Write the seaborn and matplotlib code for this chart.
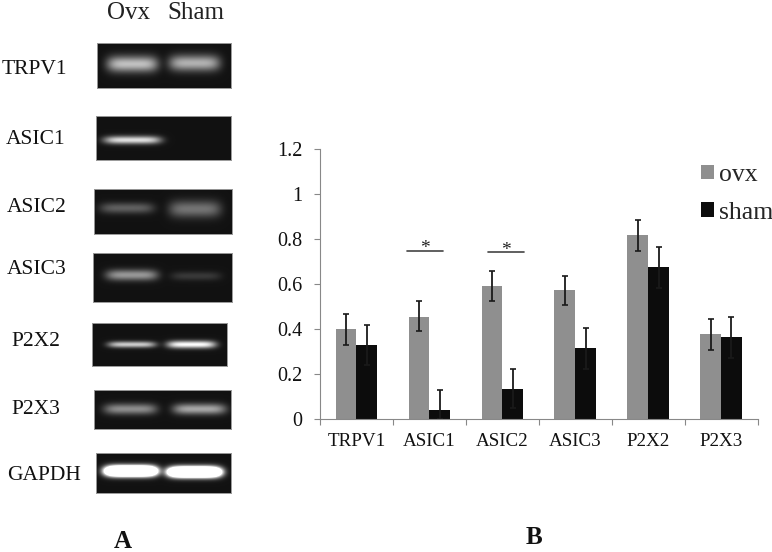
import numpy as np
import pandas as pd
import seaborn as sns
import matplotlib.pyplot as plt

# Bar chart values (panel B)
genes = ['TRPV1', 'ASIC1', 'ASIC2', 'ASIC3', 'P2X2', 'P2X3']
ovx = [0.40, 0.455, 0.59, 0.573, 0.817, 0.376]
sham = [0.33, 0.04, 0.135, 0.315, 0.675, 0.366]
ovx_hi = [0.465, 0.524, 0.656, 0.637, 0.883, 0.443]
ovx_lo = [0.33, 0.39, 0.523, 0.505, 0.747, 0.305]
sham_hi = [0.42, 0.127, 0.224, 0.406, 0.765, 0.453]
sham_lo = [0.24, 0.0, 0.048, 0.224, 0.582, 0.27]
yticks = [0, 0.2, 0.4, 0.6, 0.8, 1, 1.2]
yticklabels = ['0', '0.2', '0.4', '0.6', '0.8', '1', '1.2']

# Gel panels (panel A), in pixels of the figure
gel_names = ['TRPV1', 'ASIC1', 'ASIC2', 'ASIC3', 'P2X2', 'P2X3', 'GAPDH']
gel_boxes = [(97, 231, 43, 88), (96, 231, 116, 160), (94, 232, 189, 234),
             (93, 232, 253, 302), (92, 227, 323, 366), (94, 231, 390, 429),
             (96, 231, 453, 493)]
# each band: x start, x end, y centre, half height, brightness
gel_bands = [
    [(107, 158, 64, 8, 0.68), (169, 220, 63, 8, 0.62)],
    [(104, 161, 140, 4, 0.8)],
    [(100, 154, 208, 5.5, 0.3), (169, 221, 209, 8.5, 0.38)],
    [(106, 158, 275, 5.5, 0.52), (171, 221, 276, 4.5, 0.15)],
    [(108, 156, 344.5, 3.2, 0.72), (167, 216, 344.5, 3.8, 0.92)],
    [(104, 157, 409, 5.5, 0.48), (173, 226, 409, 5.5, 0.58)],
    [(105, 157, 471, 5, 3.0), (168, 221, 472, 5, 3.0)],
]
gel_label_x = [34, 36, 37, 37, 35.5, 35.5, 44]
gel_label_y = [69, 139, 208, 270, 342, 410, 476]

W, H = 772, 552
sns.set_style('white')
plt.rcParams['font.family'] = ['Liberation Serif', 'DejaVu Serif']
fig = plt.figure(figsize=(W / 100, H / 100), dpi=100)


def px_axes(x0, x1, y0, y1):
    return fig.add_axes([x0 / W, 1 - y1 / H, (x1 - x0) / W, (y1 - y0) / H])


def gel_image(box, bands):
    xs = np.arange(box[0], box[1]) + 0.5
    ys = np.arange(box[2], box[3]) + 0.5
    xx, yy = np.meshgrid(xs, ys)
    img = np.full(xx.shape, 0.07)
    for b in bands:
        c, w = (b[0] + b[1]) / 2, (b[1] - b[0]) / 2
        img += b[4] * np.exp(-np.abs((xx - c) / w) ** 5) * np.exp(-np.abs((yy - b[2]) / b[3]) ** 2)
    return img


# Panel A
for box, bands, name, lx, ly in zip(gel_boxes, gel_bands, gel_names, gel_label_x, gel_label_y):
    ax_gel = px_axes(box[0], box[1], box[2], box[3])
    sns.heatmap(gel_image(box, bands), ax=ax_gel, cmap='gray', vmin=0, vmax=1, cbar=False,
                xticklabels=False, yticklabels=False)
    for s in ax_gel.spines.values():
        s.set_visible(True)
        s.set_color('#999999')
        s.set_linewidth(0.7)
    fig.text(lx / W, 1 - ly / H, name, fontsize=15.5, color='#111111', ha='center', va='center')

fig.text(129 / W, 1 - 13 / H, 'Ovx', fontsize=18, color='#222222', ha='center', va='center')
fig.text(196 / W, 1 - 13 / H, 'Sham', fontsize=18, color='#222222', ha='center', va='center')
fig.text(123 / W, 1 - 542 / H, 'A', fontsize=18, fontweight='bold', color='#111111', ha='center', va='center')
fig.text(534 / W, 1 - 537 / H, 'B', fontsize=18, fontweight='bold', color='#111111', ha='center', va='center')

# Panel B
df = pd.DataFrame({
    'gene': genes * 2,
    'value': ovx + sham,
    'group': ['ovx'] * len(genes) + ['sham'] * len(genes),
})
ax = px_axes(320, 757.5, 149, 419)
sns.barplot(data=df, x='gene', y='value', hue='group', ax=ax, width=0.57, saturation=1, gap=0,
            palette={'ovx': '#8f8f8f', 'sham': '#0c0c0c'}, errorbar=None, linewidth=0, edgecolor='none')

for cont, vals, hi, lo in zip(ax.containers, [ovx, sham], [ovx_hi, sham_hi], [ovx_lo, sham_lo]):
    x = [p.get_x() + p.get_width() / 2 for p in cont]
    yerr = [np.array(vals) - np.array(lo), np.array(hi) - np.array(vals)]
    ax.errorbar(x, vals, yerr=yerr, fmt='none', ecolor='#1a1a1a', elinewidth=1.3, capsize=2.5, capthick=1.2)

# significance marks
for x0, x1, y in [(0.69, 1.19, 0.748), (1.81, 2.30, 0.742)]:
    ax.plot([x0, x1], [y, y], color='#444444', lw=1.2)
    ax.text((x0 + x1) / 2, y - 0.03, '*', fontsize=14, color='#222222', ha='center', va='bottom')

ax.set_xlim(-0.5, 5.5)
ax.set_ylim(0, 1.2)
ax.set_xlabel('')
ax.set_ylabel('')
ax.set_yticks(yticks, yticklabels)
ax.set_xticks(np.arange(-0.5, 6), [''] * 7)
ax.set_xticks(range(len(genes)), genes, minor=True)
ax.tick_params(axis='x', which='major', length=4.5, width=0.8, color='#888888', bottom=True)
ax.tick_params(axis='x', which='minor', length=0, pad=10, labelsize=13.7, labelcolor='#111111')
ax.tick_params(axis='y', length=4.5, width=0.8, color='#888888', left=True, pad=8, labelsize=14.5, labelcolor='#111111')
sns.despine(ax=ax)
ax.spines['left'].set_color('#888888')
ax.spines['bottom'].set_color('#888888')
ax.spines['left'].set_linewidth(0.8)
ax.spines['bottom'].set_linewidth(0.8)

handles, labels = ax.get_legend_handles_labels()
ax.legend(handles, labels, frameon=False, fontsize=18.5, loc='upper left', bbox_to_anchor=(0.871, 0.944),
          handlelength=0.5, handleheight=0.5, handletextpad=0.18, labelspacing=0.6, borderpad=0, borderaxespad=0)

fig.savefig('out.png', dpi=100)
